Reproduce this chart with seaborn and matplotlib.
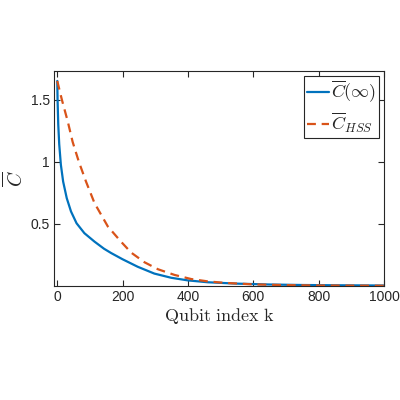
import pandas as pd
import seaborn as sns
import matplotlib
matplotlib.use("Agg")
import matplotlib.pyplot as plt

# values
blue_k = [0, 1, 3, 6, 11, 18, 29, 42, 59, 83, 114, 143, 165, 200, 246, 297, 349, 400, 461,
          550, 650, 750, 850, 1000]
blue_v = [1.65, 1.49, 1.30, 1.14, 0.976, 0.84, 0.707, 0.60, 0.505, 0.425, 0.357, 0.30, 0.265,
          0.215, 0.155, 0.10, 0.066, 0.045, 0.030, 0.019, 0.012, 0.008, 0.006, 0.004]

red_k = [0, 14, 32, 47, 66, 88, 114, 155, 195, 226, 267, 308, 359, 410, 461, 513, 600, 700,
         800, 900, 1000]
red_v = [1.65, 1.50, 1.325, 1.16, 1.00, 0.84, 0.667, 0.478, 0.357, 0.269, 0.191, 0.135, 0.089,
         0.056, 0.037, 0.025, 0.013, 0.007, 0.004, 0.003, 0.002]

x_ticks = [0, 200, 400, 600, 800, 1000]
y_ticks = [0.5, 1, 1.5]
y_tick_labels = ["0.5", "1", "1.5"]

sns.set_style("ticks")
plt.rcParams["font.family"] = ["Liberation Sans", "DejaVu Sans"]
plt.rcParams["mathtext.fontset"] = "cm"
plt.rcParams["xtick.direction"] = "in"
plt.rcParams["ytick.direction"] = "in"

blue_df = pd.DataFrame({"k": blue_k, "C": blue_v})
red_df = pd.DataFrame({"k": red_k, "C": red_v})

fig = plt.figure(figsize=(4, 4), dpi=100)
ax = fig.add_axes([0.135, 0.285, 0.825, 0.5375])

sns.lineplot(data=blue_df, x="k", y="C", ax=ax, color="#0072BD", linewidth=1.6,
             label=r"$\overline{C}(\infty)$")
sns.lineplot(data=red_df, x="k", y="C", ax=ax, color="#D95319", linewidth=1.6,
             label=r"$\overline{C}_{HSS}$")
ax.lines[1].set_linestyle((0, (4, 2.6)))

ax.set_xlim(-10, 1000)
ax.set_ylim(0, 1.73)
ax.set_xticks(x_ticks)
ax.set_yticks(y_ticks)
ax.set_yticklabels(y_tick_labels)
ax.tick_params(axis="both", which="both", top=True, right=True, length=4,
               width=0.8, labelsize=10, colors="#262626", pad=3)

for side in ["top", "right", "bottom", "left"]:
    ax.spines[side].set_visible(True)
    ax.spines[side].set_color("#262626")
    ax.spines[side].set_linewidth(0.8)

ax.set_xlabel(r"$\mathrm{Qubit\ index\ k}$", fontsize=13, labelpad=1)
ax.set_ylabel(r"$\overline{C}$", fontsize=14, labelpad=3)

leg = ax.legend(loc="upper right", fontsize=13, handlelength=1.2, handletextpad=0.1,
                borderpad=0.15, borderaxespad=0.3, labelspacing=0.3, fancybox=False,
                framealpha=1, edgecolor="#262626")
leg.get_frame().set_linewidth(0.8)
leg.get_lines()[1].set_linestyle((0, (4, 2.6)))

fig.savefig("out.png", dpi=100)
